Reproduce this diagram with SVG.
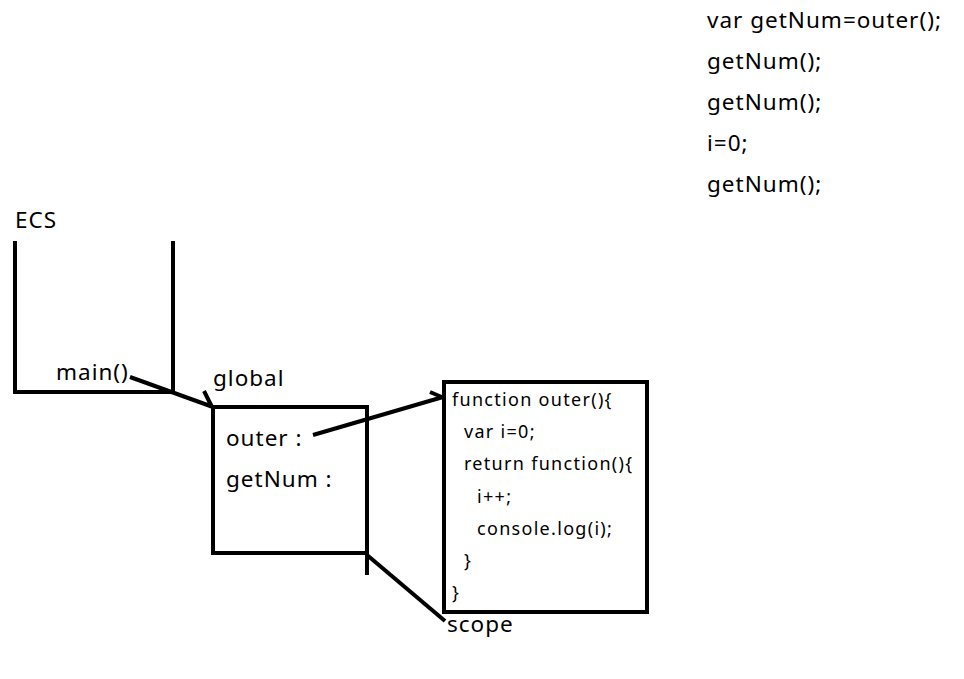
<svg xmlns="http://www.w3.org/2000/svg" width="964" height="679" viewBox="0 0 964 679">
<style>
text{font-family:"Noto Sans","Open Sans",sans-serif;fill:#000}
.t{font-size:22.5px;letter-spacing:1px}
.c{font-size:18px;letter-spacing:1.3px}
.ln{stroke:#000;stroke-width:4;fill:none}
</style>
<rect width="964" height="679" fill="#fff"/>
<g id="code-list">
<text class="t" x="707" y="28">var getNum=outer();</text>
<text class="t" x="707" y="69">getNum();</text>
<text class="t" x="707" y="110">getNum();</text>
<text class="t" x="707" y="151">i=0;</text>
<text class="t" x="707" y="192">getNum();</text>
</g>
<g id="ecs">
<text class="t" x="15" y="228">ECS</text>
<path class="ln" d="M15,241 V392 H173 M173,241 V392"/>
<text class="t" x="56" y="380">main()</text>
</g>
<g id="global">
<text class="t" x="213" y="386">global</text>
<rect class="ln" x="213" y="407" width="154" height="146"/>
<path class="ln" d="M367,553 V575"/>
<text class="t" x="226" y="446">outer :</text>
<text class="t" x="226" y="487">getNum :</text>
</g>
<g id="outer-fn">
<rect class="ln" x="444" y="382" width="203" height="230"/>
<text class="c" x="452" y="406">function outer(){</text>
<text class="c" x="464" y="438">var i=0;</text>
<text class="c" x="464" y="470">return function(){</text>
<text class="c" x="477" y="503">i++;</text>
<text class="c" x="477" y="535">console.log(i);</text>
<text class="c" x="464" y="567">}</text>
<text class="c" x="452" y="599">}</text>
</g>
<g id="scope-label">
<text class="t" x="447" y="632">scope</text>
</g>
<g id="connectors">
<path class="ln" d="M130,377 L213,407 M204,391 L212,407"/>
<path class="ln" d="M313,435 L443,397 M430,392 L444,398"/>
<path class="ln" d="M367,555 L445,621"/>
</g>
</svg>
